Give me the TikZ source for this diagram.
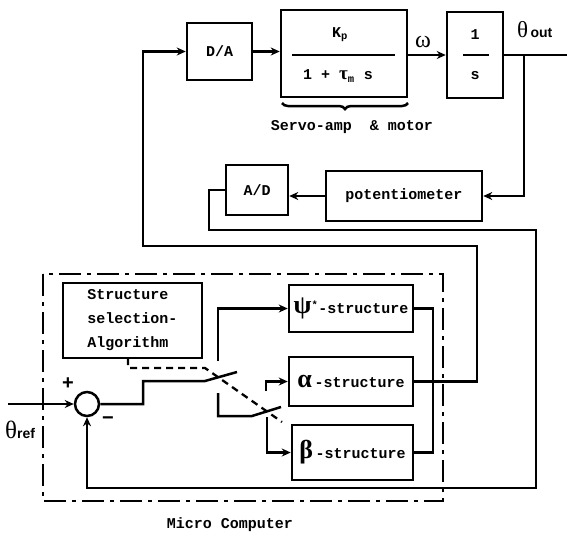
\documentclass[tikz,border=0pt]{standalone}
\usepackage{fontspec}
\setmonofont{Liberation Mono}
\newfontfamily\gkfont{Liberation Serif}
\newfontfamily\sgnfont{Liberation Sans}
\usetikzlibrary{arrows.meta,decorations.pathreplacing}
\begin{document}
\begin{tikzpicture}[x=1pt,y=-1pt,
  ln/.style={line width=2.5pt},
  arr/.style={ln,-{Stealth[length=9pt,width=8pt]}},
  blk/.style={draw,line width=2.5pt,inner sep=0pt},
  txt/.style={font=\fontsize{15}{18}\selectfont\ttfamily\bfseries},
  gk/.style={font=\fontsize{24}{24}\selectfont\gkfont},
  dsh/.style={line width=2.3pt,dash pattern=on 7pt off 5pt},
  frame/.style={line width=2.3pt,dash pattern=on 22pt off 6pt on 4pt off 6pt}
]
\useasboundingbox (0,0) rectangle (567,536);
\fill[white] (0,0) rectangle (567,536);

% ---- top row ----
\node[blk,txt,minimum width=65pt,minimum height=57pt] (da) at (219.5,51.5) {D/A};
\node[blk,minimum width=126pt,minimum height=87pt] (servo) at (344,53.5) {};
\node[blk,minimum width=56pt,minimum height=86pt] (ios) at (475,55) {};
\draw[ln] (292,55) -- (395,55);
\node[txt] (kp) at (340,35) {K\textsubscript{p}};
\node[txt] (den) at (338,76) {1 + {\gkfont\fontsize{19}{19}\selectfont τ}\textsubscript{m} s};
\draw[ln] (463,55) -- (489,55);
\node[txt] (one) at (475,35) {1};
\node[txt] (ess) at (475,76) {s};
\node[gk] (omega) at (423,42) {ω};
\node[anchor=west,inner sep=0pt] (thout) at (517,30) {{\fontsize{23}{23}\selectfont\gkfont θ}{\fontsize{14}{14}\selectfont\sgnfont\bfseries\,out}};
\draw[ln,decorate,decoration={brace,mirror,amplitude=6pt}] (282,103) -- (408,103);
\node[txt] (servolbl) at (352,127) {Servo-amp \ \& motor};

\draw[arr] (da.east) -- (servo.west |- da.east);
\draw[arr] (servo.east |- ios.west) -- (ios.west);
\coordinate (outend) at (567,55);
\coordinate (tap) at (524,55);
\draw[ln] (ios.east) -- (outend);

% ---- measurement ----
\node[blk,txt,minimum width=156pt,minimum height=50pt] (pot) at (404,196) {potentiometer};
\node[blk,txt,minimum width=62pt,minimum height=50pt] (ad) at (257,190) {A/D};
\draw[arr] (tap) |- (pot.east);
\draw[arr] (pot.west) -- (ad.east |- pot.west);
\coordinate (c1) at (209,230);
\coordinate (c2) at (536,488);

% ---- micro computer ----
\draw[frame] (43,274) rectangle (443,501);
\node[txt] (micro) at (230,525) {Micro Computer};

\node[blk,txt,minimum width=139pt,minimum height=75pt,align=left,font=\fontsize{15}{24}\selectfont\ttfamily\bfseries] (struct) at (132.5,320.5) {Structure\\selection-\\Algorithm};

\node[blk,txt,minimum width=124pt,minimum height=47pt] (psi) at (351,308.5) {{\fontsize{26}{26}\selectfont\gkfont ψ}\textsuperscript{*}-structure};
\node[blk,txt,minimum width=124pt,minimum height=49pt] (alpha) at (351,381.5) {{\fontsize{26}{26}\selectfont\gkfont α}\,-structure};
\node[blk,txt,minimum width=121pt,minimum height=55pt] (beta) at (352.5,452.5) {{\fontsize{26}{26}\selectfont\gkfont β}\,-structure};

\node[draw,circle,ln,minimum size=24pt,inner sep=0pt] (sum) at (87,404) {};
\coordinate (in) at (8,404);
\draw[arr] (in) -- (sum.west);
\node[font=\fontsize{20}{20}\selectfont\sgnfont\bfseries] (plus) at (68,384) {+};
\node[font=\fontsize{20}{20}\selectfont\sgnfont\bfseries] (minus) at (108,421) {−};
\node[anchor=west,inner sep=0pt] (thref) at (5,430) {{\fontsize{25}{25}\selectfont\gkfont θ}{\fontsize{14}{14}\selectfont\sgnfont\bfseries ref}};

% switch from summing junction
\coordinate (s1) at (143,381);
\coordinate (s2) at (205,381);
\coordinate (s3) at (237,372);
\draw[ln] (sum.east) -| (s1) -- (s2) -- (s3);
\coordinate (p1) at (218,361);
\draw[arr] (p1) |- (psi.west);
\coordinate (q1) at (218,393);
\coordinate (q2) at (252,416);
\coordinate (q3) at (281,407);
\draw[ln] (q1) |- (q2) -- (q3);
\coordinate (a1) at (266,391);
\draw[arr] (a1) |- (alpha.west);
\coordinate (b1) at (267,417);
\draw[arr] (b1) |- (beta.west);

% selection signal (dashed)
\coordinate (d0) at (128,358);
\coordinate (d1) at (128,368);
\coordinate (d2) at (205,368);
\coordinate (d3) at (282,422);
\draw[dsh] (d0) -- (d1) -- (d2) -- (d3);

% outputs
\coordinate (c5) at (433,330);
\draw[ln] (psi.east) -| (c5) |- (beta.east);
\coordinate (c3) at (477,246);
\coordinate (c4) at (143,246);
\draw[arr] (alpha.east) -| (c3) -- (c4) |- (da.west);

% feedback from A/D
\draw[arr] (ad.west) -| (c1) -| (c2) -| (sum.south);
\end{tikzpicture}
\end{document}
